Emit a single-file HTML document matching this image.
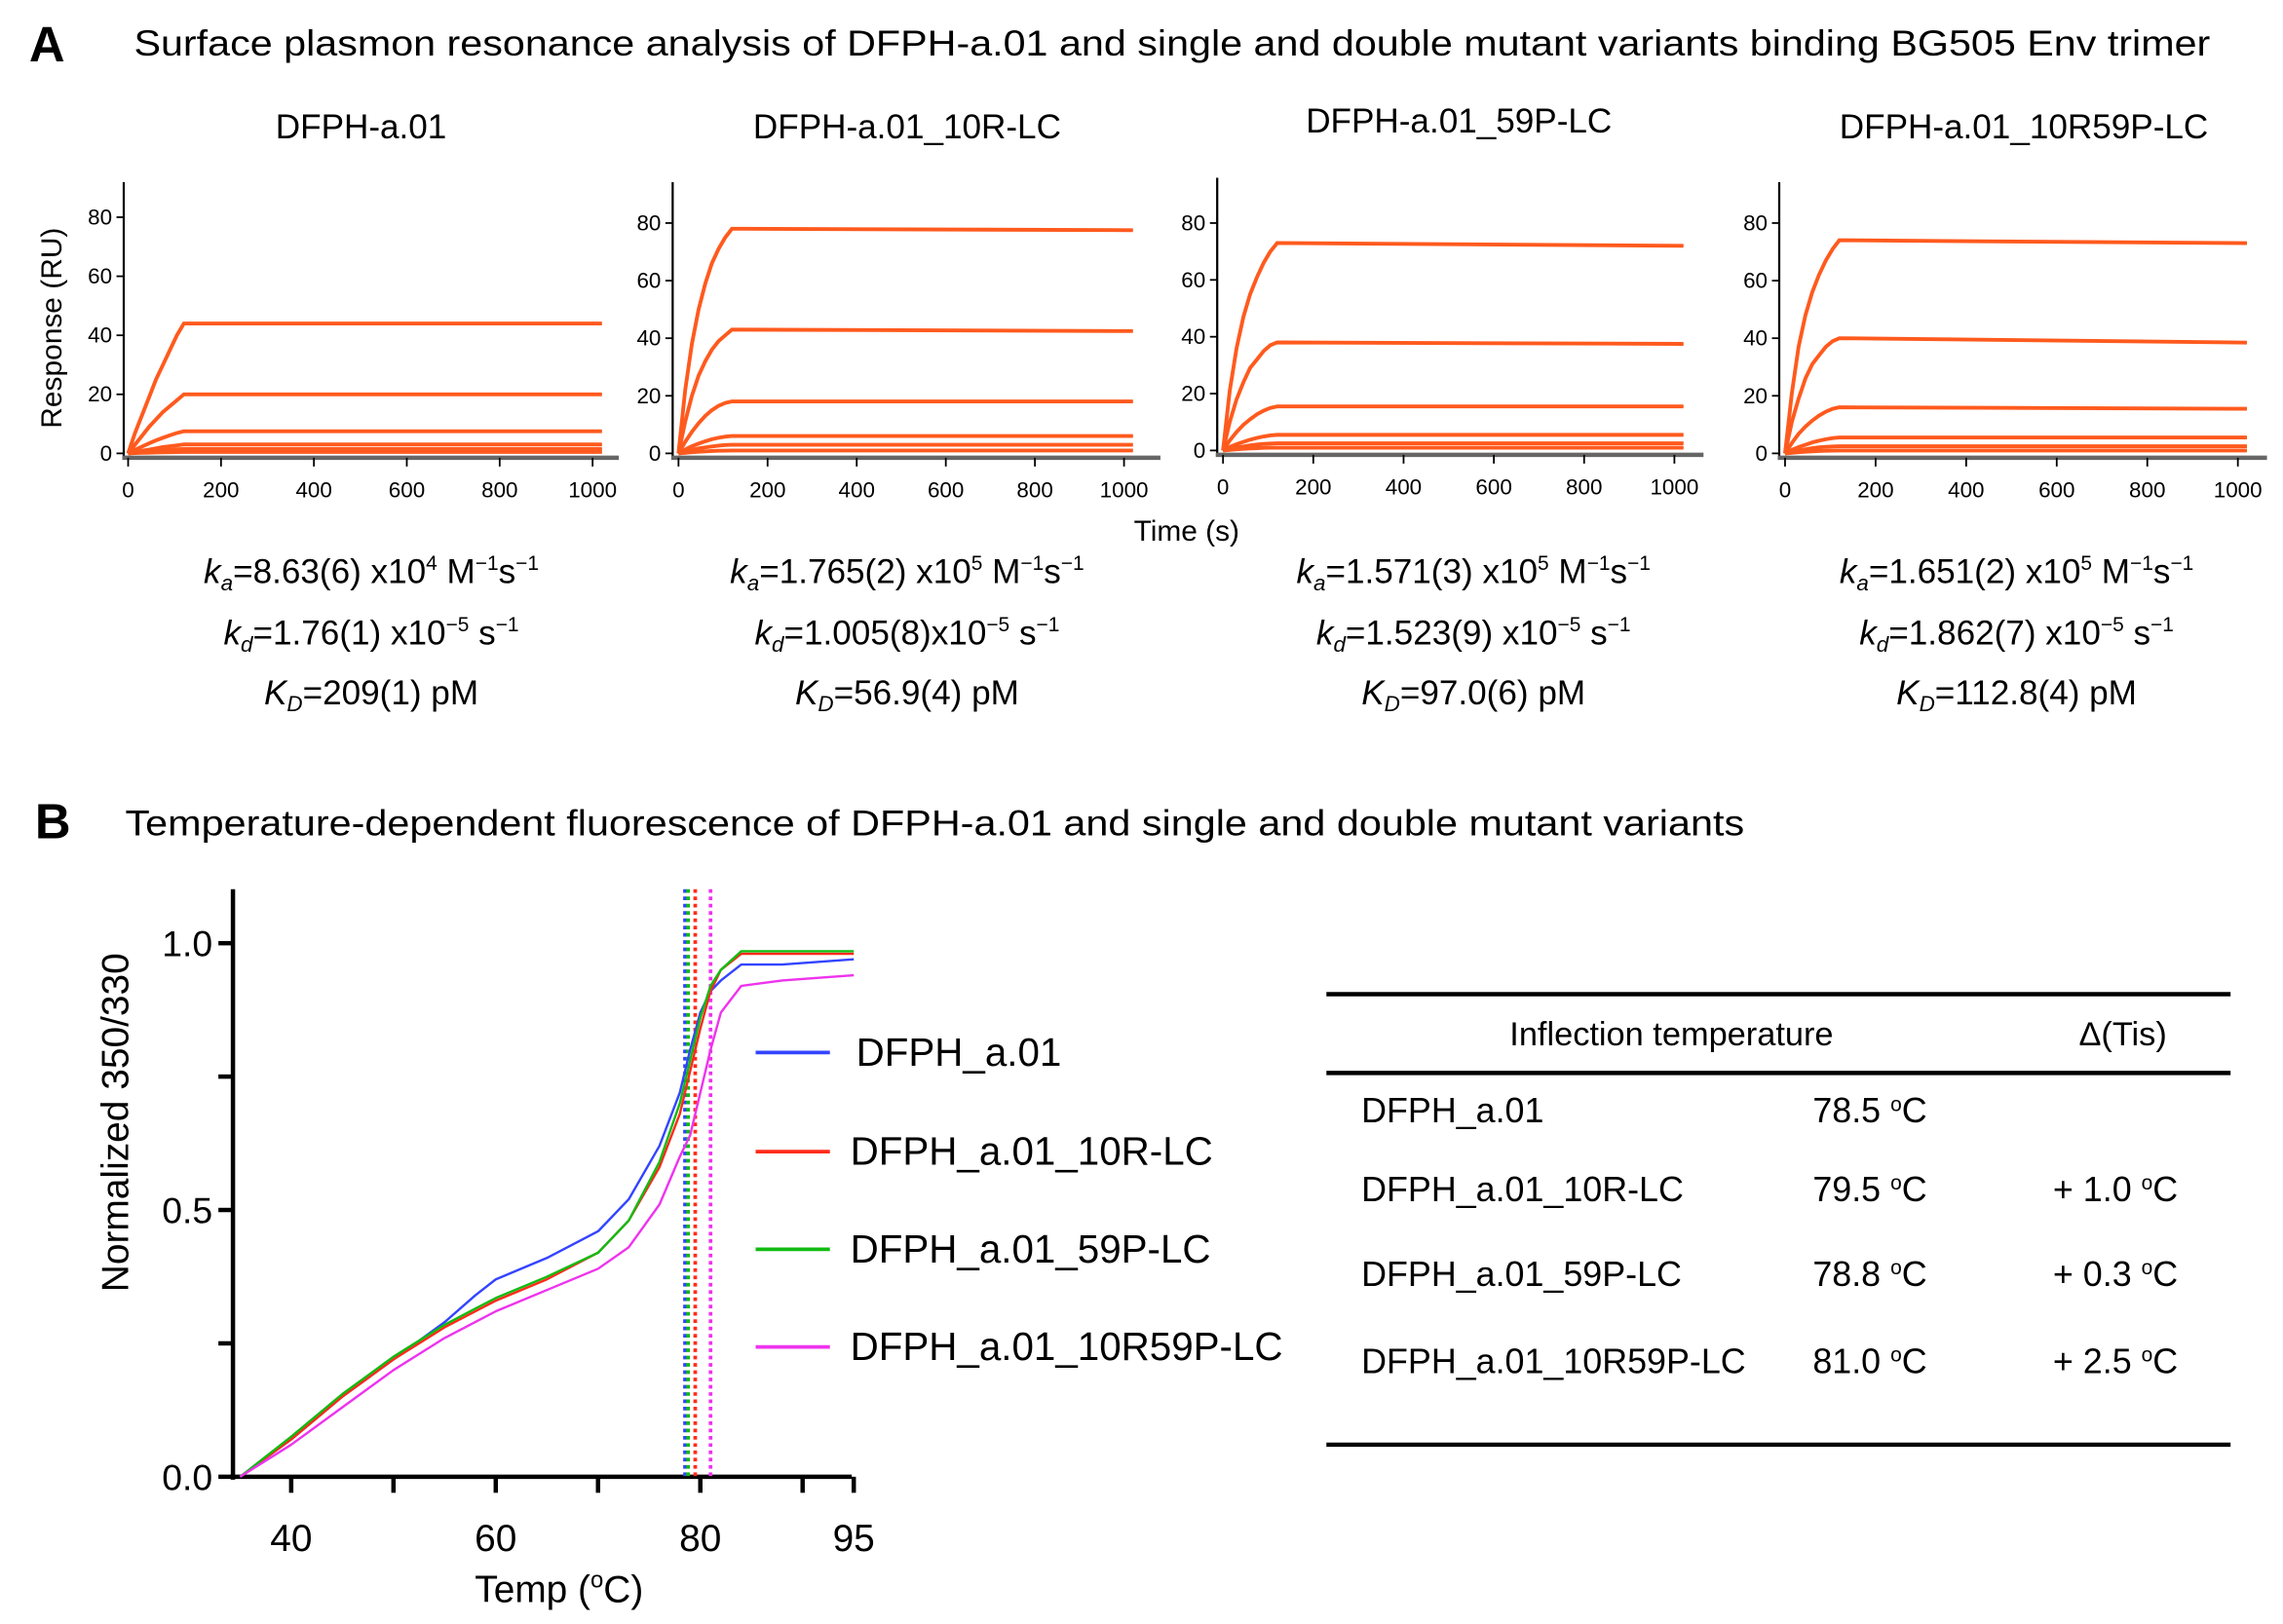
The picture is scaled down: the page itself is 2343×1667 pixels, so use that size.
<!DOCTYPE html>
<html><head><meta charset="utf-8">
<style>
html,body{margin:0;padding:0;background:#fff;}
svg{display:block;font-family:"Liberation Sans",Arial,sans-serif;}
</style></head>
<body>
<svg id="fig" width="2343" height="1667" viewBox="0 0 1568 1114" preserveAspectRatio="none">
<rect x="0" y="0" width="1568" height="1114" fill="#fff"/>
<text x="20" y="42" font-size="34" font-weight="bold">A</text>
<text x="92" y="38" font-size="25" textLength="1426" lengthAdjust="spacingAndGlyphs">Surface plasmon resonance analysis of DFPH-a.01 and single and double mutant variants binding BG505 Env trimer</text>
<text x="24" y="575" font-size="34" font-weight="bold">B</text>
<text x="86" y="573" font-size="25" textLength="1112" lengthAdjust="spacingAndGlyphs">Temperature-dependent fluorescence of DFPH-a.01 and single and double mutant variants</text>
<text transform="translate(42,225) rotate(-90)" font-size="20" text-anchor="middle">Response (RU)</text>
<text x="815" y="371" font-size="20" text-anchor="middle">Time (s)</text>
<g id="spr"></g>
<g id="tsf"></g>
<g id="table">
<line x1="911" y1="682" x2="1532" y2="682" stroke="#000" stroke-width="3"/>
<line x1="911" y1="736" x2="1532" y2="736" stroke="#000" stroke-width="3"/>
<line x1="911" y1="991" x2="1532" y2="991" stroke="#000" stroke-width="3"/>
<text x="1148" y="717" font-size="23" text-anchor="middle">Inflection temperature</text>
<text x="1458" y="717" font-size="23" text-anchor="middle">Δ(Tis)</text>
</g>
</svg>
<script>
const NS="http://www.w3.org/2000/svg";
function mk(tag,attrs,parent,txt){const e=document.createElementNS(NS,tag);for(const k in attrs)e.setAttribute(k,attrs[k]);if(txt!==undefined)e.textContent=txt;parent.appendChild(e);return e;}

// ===== SPR data =====
const sprTimes=[0,15,30,45,60,75,90,105,120,1020];
const sprTitles=["DFPH-a.01","DFPH-a.01_10R-LC","DFPH-a.01_59P-LC","DFPH-a.01_10R59P-LC"];
const sprXTicks=[0,200,400,600,800,1000];
const sprYTicks=[0,20,40,60,80];
const spr1=[[0,7,13,19,25,30,35,40,44,44],[0,3,6,9,11.5,14,16,18,20,20],[0,1.2,2.3,3.4,4.4,5.3,6.1,6.9,7.5,7.5],[0,0.5,0.9,1.3,1.7,2.1,2.4,2.7,3,3],[0,0.3,0.5,0.7,0.9,1.1,1.2,1.4,1.5,1.5],[0,0.1,0.2,0.25,0.3,0.35,0.4,0.45,0.5,0.5]];
const spr2=[[0,22,38,50,59,66,71,75,78,77.5],[0,11,20,27,32,36,39,41,43,42.5],[0,4,7.5,10.5,13,15,16.5,17.5,18,18],[0,1.3,2.5,3.4,4.2,4.9,5.4,5.8,6,6],[0,0.6,1.2,1.7,2.1,2.4,2.7,2.9,3,3],[0,0.2,0.4,0.55,0.7,0.8,0.9,0.95,1,1]];
const spr3=[[0,21,36,47,55,61,66,70,73,72],[0,10,18,24,29,32,35,37,38,37.5],[0,3.5,6.5,9,11,12.7,14,15,15.5,15.5],[0,1.2,2.2,3,3.8,4.4,4.9,5.3,5.5,5.5],[0,0.5,1,1.4,1.8,2.1,2.3,2.4,2.5,2.5],[0,0.2,0.4,0.55,0.7,0.8,0.9,0.95,1,1]];
const spr4=[[0,21,37,48,56,62,67,71,74,73],[0,11,19,26,31,34,37,39,40,38.5],[0,3.6,6.8,9.3,11.4,13.1,14.5,15.5,16,15.5],[0,1.2,2.2,3,3.8,4.4,4.9,5.3,5.5,5.5],[0,0.5,1,1.4,1.8,2.1,2.3,2.4,2.5,2.5],[0,0.2,0.4,0.55,0.7,0.8,0.9,0.95,1,1]];
const sprKa=["8.63(6) x10","1.765(2) x10","1.571(3) x10","1.651(2) x10"];
const sprKaExp=["4","5","5","5"];
const sprKd=["1.76(1) x10","1.005(8)x10","1.523(9) x10","1.862(7) x10"];
const sprKD=["209(1) pM","56.9(4) pM","97.0(6) pM","112.8(4) pM"];
const sprSeries=[spr1,spr2,spr3,spr4];
// layout (not data)
const sprLayout=[{ax:85,x0:88,x1:407,y0:311,y80:149,top:125,end:425,tc:248,ty:95,kc:255},
{ax:462,x0:466,x1:772,y0:311,y80:153,top:125,end:797,tc:623,ty:95,kc:623},
{ax:836,x0:840,x1:1150,y0:309,y80:153,top:122,end:1170,tc:1002,ty:91,kc:1012},
{ax:1222,x0:1226,x1:1537,y0:311,y80:153,top:125,end:1557,tc:1390,ty:95,kc:1385}];
const sprG=document.getElementById('spr');
sprLayout.forEach((L,pi)=>{
  const g=mk('g',{},sprG);
  
  
  const X=t=>L.x0+(L.x1-L.x0)*t/1000;
  const Y=v=>L.y0-(L.y0-L.y80)*v/80;
  const tt=mk('text',{x:L.tc,y:L.ty,'font-size':23.5,'text-anchor':'middle'},g,sprTitles[pi]);
  
  
  const ya=mk('line',{x1:L.ax,y1:L.top,x2:L.ax,y2:L.y0+3,stroke:'#000','stroke-width':1.5},g);
  
  
  const xa=mk('line',{x1:L.ax-1,y1:L.y0+3,x2:L.end,y2:L.y0+3,stroke:'#666','stroke-width':3},g);
  
  
  sprYTicks.forEach(v=>{
    mk('line',{x1:L.ax-5,y1:Y(v),x2:L.ax,y2:Y(v),stroke:'#000','stroke-width':1.2},g);
    const l=mk('text',{x:L.ax-8,y:Y(v)+5,'font-size':15,'text-anchor':'end'},g,String(v));
    
    
  });
  sprXTicks.forEach(v=>{
    mk('line',{x1:X(v),y1:L.y0+3,x2:X(v),y2:L.y0+9,stroke:'#000','stroke-width':1.2},g);
    const l=mk('text',{x:X(v),y:L.y0+30,'font-size':15,'text-anchor':'middle'},g,String(v));
    
    
  });
  sprSeries[pi].forEach((s,si)=>{
    const pts=s.map((v,i)=>X(sprTimes[i]).toFixed(1)+','+Y(v).toFixed(1)).join(' ');
    const b=mk('polyline',{points:pts,fill:'none',stroke:'#111','stroke-width':1},g);
    
    
    const p=mk('polyline',{points:pts,fill:'none',stroke:'#ff5a1e','stroke-width':2.6},g);
    
    
  });
  const k1=mk('text',{x:L.kc,y:400,'font-size':23.5,'text-anchor':'middle'},g);
  
  
  k1.innerHTML='<tspan font-style="italic">k</tspan><tspan font-size="15" dy="5" font-style="italic">a</tspan><tspan dy="-5">='+sprKa[pi]+'</tspan><tspan font-size="14" dy="-9">'+sprKaExp[pi]+'</tspan><tspan dy="9"> M</tspan><tspan font-size="14" dy="-9">−1</tspan><tspan dy="9">s</tspan><tspan font-size="14" dy="-9">−1</tspan>';
  const k2=mk('text',{x:L.kc,y:442,'font-size':23.5,'text-anchor':'middle'},g);
  
  
  k2.innerHTML='<tspan font-style="italic">k</tspan><tspan font-size="15" dy="5" font-style="italic">d</tspan><tspan dy="-5">='+sprKd[pi]+'</tspan><tspan font-size="14" dy="-9">−5</tspan><tspan dy="9"> s</tspan><tspan font-size="14" dy="-9">−1</tspan>';
  const k3=mk('text',{x:L.kc,y:483,'font-size':23.5,'text-anchor':'middle'},g);
  
  
  k3.innerHTML='<tspan font-style="italic">K</tspan><tspan font-size="15" dy="5" font-style="italic">D</tspan><tspan dy="-5">='+sprKD[pi]+'</tspan>';
});

// ===== Thermal data =====
const tsfNames=["DFPH_a.01","DFPH_a.01_10R-LC","DFPH_a.01_59P-LC","DFPH_a.01_10R59P-LC"];
const tsfColors=["#3344ff","#ff2a1a","#11bb11","#ee33ee"];
const tsfTemps=[35,40,45,50,55,58,60,65,70,73,76,78,79,80,81,82,84,88,95];
const tsfBlue=[0,0.07,0.15,0.22,0.29,0.34,0.37,0.41,0.46,0.52,0.62,0.72,0.80,0.87,0.91,0.93,0.96,0.96,0.97];
const tsfRed=[0,0.07,0.15,0.22,0.28,0.31,0.33,0.37,0.42,0.48,0.58,0.68,0.76,0.84,0.91,0.95,0.98,0.98,0.98];
const tsfGreen=[0,0.075,0.155,0.225,0.285,0.315,0.335,0.375,0.42,0.48,0.59,0.70,0.78,0.86,0.92,0.95,0.985,0.985,0.985];
const tsfMagenta=[0,0.06,0.13,0.20,0.26,0.29,0.31,0.35,0.39,0.43,0.51,0.60,0.64,0.72,0.80,0.87,0.92,0.93,0.94];
const tsfSeries=[tsfBlue,tsfRed,tsfGreen,tsfMagenta];
const tsfTm=[78.5,79.5,78.8,81.0];
const tsfDelta=["","+ 1.0","+ 0.3","+ 2.5"];
const tsfXTicks=[40,50,60,70,80,90,95];
const tsfXLabels=[40,60,80,95];
const tsfYTicks=[0,0.25,0.5,0.75,1.0];
const tsfYLabels=["0.0","0.5","1.0"];
const TX=t=>200+(t-40)*(481-200)/40;
const TY=v=>1013-(1013-647)*v;
const tg=document.getElementById('tsf');
const ya=mk('line',{x1:160,y1:610,x2:160,y2:1015,stroke:'#000','stroke-width':3},tg);


const xa=mk('line',{x1:158,y1:1013,x2:585,y2:1013,stroke:'#000','stroke-width':3},tg);


tsfYTicks.forEach(v=>mk('line',{x1:150,y1:TY(v),x2:160,y2:TY(v),stroke:'#000','stroke-width':3},tg));
tsfYLabels.forEach(s=>{
  const l=mk('text',{x:146,y:TY(parseFloat(s))+9,'font-size':25,'text-anchor':'end'},tg,s);
  
  
});
tsfXTicks.forEach(v=>mk('line',{x1:TX(v),y1:1013,x2:TX(v),y2:1024,stroke:'#000','stroke-width':3},tg));
tsfXLabels.forEach(v=>{
  const l=mk('text',{x:TX(v),y:1064,'font-size':26,'text-anchor':'middle'},tg,String(v));
  
  
});
const xt=mk('text',{x:384,y:1099,'font-size':26,'text-anchor':'middle'},tg);


xt.innerHTML='Temp (<tspan font-size="16" dy="-10">o</tspan><tspan dy="10">C)</tspan>';
const yt=mk('text',{transform:'translate(88,770) rotate(-90)','font-size':26,'text-anchor':'middle'},tg,'Normalized 350/330');


tsfTm.forEach((t,i)=>{
  const l=mk('line',{x1:TX(t),y1:610,x2:TX(t),y2:1013,stroke:tsfColors[i],'stroke-width':2.5,'stroke-dasharray':'2.5 2.5'},tg);
  
  
});
tsfSeries.forEach((s,i)=>{
  const pts=s.map((v,k)=>TX(tsfTemps[k]).toFixed(1)+','+TY(v).toFixed(1)).join(' ');
  const p=mk('polyline',{points:pts,fill:'none',stroke:tsfColors[i],'stroke-width':1.6,'stroke-linejoin':'round'},tg);
  
  
});
const legY=[722,790,857,924];
tsfNames.forEach((n,i)=>{
  const g=mk('g',{},tg);
  
  
  mk('line',{x1:519,y1:legY[i],x2:570,y2:legY[i],stroke:tsfColors[i],'stroke-width':2.5},g);
  mk('text',{x:i==0?588:584,y:legY[i]+9,'font-size':27},g,n);
});
// table rows
const tb=document.getElementById('table');
const rowY=[762,816,874,934];
tsfNames.forEach((n,i)=>{
  const g=mk('g',{},tb);
  
  
  mk('text',{x:935,y:rowY[i]+8,'font-size':24},g,n);
  const t=mk('text',{x:1245,y:rowY[i]+8,'font-size':24},g);
  t.innerHTML=tsfTm[i].toFixed(1)+' <tspan font-size="14" dy="-8">o</tspan><tspan dy="8">C</tspan>';
  if(tsfDelta[i]){const d=mk('text',{x:1410,y:rowY[i]+8,'font-size':24},g);
    d.innerHTML=tsfDelta[i]+' <tspan font-size="14" dy="-8">o</tspan><tspan dy="8">C</tspan>';}
});
</script>
</body></html>
